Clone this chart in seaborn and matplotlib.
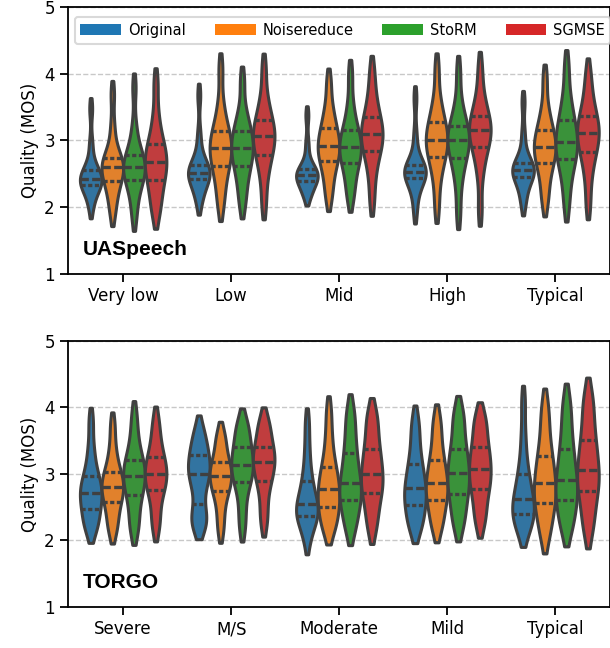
import numpy as np
import pandas as pd
import matplotlib
import matplotlib.pyplot as plt
from matplotlib.patches import Patch
import seaborn as sns

matplotlib.rcParams.update({
    "font.family": "DejaVu Sans",
    "font.size": 12,
    "axes.linewidth": 1.3,
    "xtick.major.width": 1.3,
    "ytick.major.width": 1.3,
    "xtick.major.size": 6,
    "ytick.major.size": 6,
    "xtick.labelsize": 12,
    "ytick.labelsize": 12,
    "axes.labelsize": 12,
})

systems = ["Original", "Noisereduce", "StoRM", "SGMSE"]
ua_groups = ["Very low", "Low", "Mid", "High", "Typical"]
torgo_groups = ["Severe", "M/S", "Moderate", "Mild", "Typical"]

# MOS samples (one list per severity group)
ua_original = [
    [1.99, 2.18, 2.28, 2.33, 2.36, 2.39, 2.42, 2.46, 2.51, 2.56, 2.66, 2.95, 3.48],
    [2.06, 2.22, 2.33, 2.42, 2.46, 2.49, 2.52, 2.56, 2.60, 2.64, 2.78, 3.08, 3.68],
    [2.16, 2.24, 2.32, 2.40, 2.43, 2.46, 2.48, 2.51, 2.54, 2.58, 2.68, 2.95, 3.38],
    [1.93, 2.20, 2.33, 2.44, 2.48, 2.51, 2.53, 2.56, 2.59, 2.63, 2.76, 3.08, 3.64],
    [2.04, 2.22, 2.36, 2.45, 2.49, 2.53, 2.56, 2.59, 2.62, 2.67, 2.80, 3.10, 3.58],
]
ua_noisereduce = [
    [1.91, 2.12, 2.28, 2.39, 2.46, 2.54, 2.60, 2.64, 2.69, 2.74, 2.88, 3.20, 3.70],
    [2.02, 2.26, 2.48, 2.62, 2.71, 2.80, 2.89, 2.96, 3.05, 3.14, 3.28, 3.55, 4.08],
    [2.14, 2.36, 2.56, 2.69, 2.77, 2.85, 2.92, 3.00, 3.09, 3.19, 3.33, 3.52, 3.88],
    [1.99, 2.38, 2.61, 2.76, 2.85, 2.93, 3.01, 3.09, 3.17, 3.27, 3.42, 3.63, 4.08],
    [2.07, 2.30, 2.52, 2.66, 2.74, 2.83, 2.90, 2.98, 3.06, 3.15, 3.29, 3.50, 3.93],
]
ua_storm = [
    [1.85, 2.12, 2.30, 2.41, 2.48, 2.54, 2.60, 2.66, 2.72, 2.79, 2.92, 3.20, 3.80],
    [2.04, 2.28, 2.48, 2.62, 2.71, 2.81, 2.89, 2.97, 3.05, 3.14, 3.27, 3.45, 3.90],
    [2.14, 2.33, 2.54, 2.67, 2.75, 2.83, 2.90, 2.98, 3.06, 3.15, 3.30, 3.55, 4.00],
    [1.90, 2.33, 2.58, 2.74, 2.83, 2.93, 3.01, 3.07, 3.14, 3.22, 3.36, 3.58, 4.04],
    [2.02, 2.35, 2.57, 2.72, 2.81, 2.90, 2.98, 3.08, 3.19, 3.30, 3.46, 3.70, 4.12],
]
ua_sgmse = [
    [1.90, 2.08, 2.26, 2.41, 2.51, 2.60, 2.68, 2.76, 2.85, 2.95, 3.10, 3.38, 3.86],
    [2.04, 2.42, 2.64, 2.79, 2.88, 2.98, 3.06, 3.13, 3.21, 3.30, 3.45, 3.65, 4.08],
    [2.09, 2.45, 2.68, 2.84, 2.93, 3.01, 3.09, 3.17, 3.26, 3.35, 3.51, 3.72, 4.05],
    [1.95, 2.48, 2.74, 2.90, 2.99, 3.07, 3.15, 3.22, 3.29, 3.37, 3.51, 3.72, 4.10],
    [2.04, 2.43, 2.67, 2.83, 2.93, 3.02, 3.11, 3.19, 3.27, 3.36, 3.51, 3.71, 4.01],
]

torgo_original = [
    [2.16, 2.24, 2.35, 2.48, 2.57, 2.65, 2.72, 2.80, 2.88, 2.97, 3.15, 3.40, 3.80],
    [2.22, 2.28, 2.34, 2.55, 2.80, 2.92, 3.00, 3.09, 3.17, 3.28, 3.38, 3.52, 3.68],
    [2.00, 2.24, 2.31, 2.37, 2.43, 2.49, 2.55, 2.64, 2.76, 2.90, 3.10, 3.40, 3.78],
    [2.17, 2.26, 2.40, 2.53, 2.62, 2.70, 2.79, 2.90, 3.02, 3.15, 3.33, 3.58, 3.82],
    [2.14, 2.24, 2.33, 2.40, 2.47, 2.54, 2.62, 2.73, 2.86, 3.00, 3.22, 3.58, 4.09],
]
torgo_noisereduce = [
    [2.14, 2.27, 2.44, 2.58, 2.66, 2.74, 2.81, 2.88, 2.95, 3.03, 3.18, 3.40, 3.74],
    [2.14, 2.38, 2.60, 2.74, 2.82, 2.90, 2.97, 3.04, 3.11, 3.18, 3.31, 3.48, 3.61],
    [2.16, 2.25, 2.38, 2.50, 2.59, 2.68, 2.77, 2.88, 2.99, 3.10, 3.30, 3.58, 3.95],
    [2.18, 2.31, 2.47, 2.61, 2.69, 2.78, 2.86, 2.97, 3.09, 3.21, 3.38, 3.62, 3.84],
    [2.05, 2.25, 2.42, 2.56, 2.66, 2.76, 2.86, 3.00, 3.13, 3.27, 3.47, 3.75, 4.04],
]
torgo_storm = [
    [2.14, 2.30, 2.52, 2.69, 2.79, 2.88, 2.97, 3.05, 3.13, 3.21, 3.36, 3.58, 3.89],
    [2.18, 2.45, 2.72, 2.88, 2.97, 3.05, 3.13, 3.22, 3.31, 3.40, 3.54, 3.68, 3.79],
    [2.16, 2.31, 2.48, 2.61, 2.69, 2.78, 2.87, 3.00, 3.15, 3.31, 3.50, 3.75, 3.97],
    [2.21, 2.36, 2.55, 2.70, 2.80, 2.91, 3.01, 3.13, 3.25, 3.38, 3.56, 3.80, 3.95],
    [2.16, 2.30, 2.47, 2.61, 2.71, 2.81, 2.91, 3.06, 3.21, 3.37, 3.58, 3.85, 4.11],
]
torgo_sgmse = [
    [2.18, 2.37, 2.60, 2.76, 2.84, 2.92, 3.00, 3.08, 3.16, 3.25, 3.39, 3.58, 3.82],
    [2.25, 2.48, 2.74, 2.90, 3.00, 3.10, 3.18, 3.26, 3.33, 3.41, 3.55, 3.70, 3.81],
    [2.17, 2.36, 2.56, 2.71, 2.81, 2.90, 3.00, 3.12, 3.25, 3.38, 3.55, 3.78, 3.92],
    [2.25, 2.41, 2.61, 2.77, 2.87, 2.97, 3.07, 3.18, 3.29, 3.40, 3.56, 3.76, 3.87],
    [2.14, 2.34, 2.56, 2.74, 2.85, 2.95, 3.06, 3.21, 3.36, 3.51, 3.72, 3.98, 4.19],
]


def to_long(groups, per_system):
    rows = []
    for system, values in zip(systems, per_system):
        for group, samples in zip(groups, values):
            for v in samples:
                rows.append({"group": group, "system": system, "mos": v})
    return pd.DataFrame(rows)


ua_df = to_long(ua_groups, [ua_original, ua_noisereduce, ua_storm, ua_sgmse])
torgo_df = to_long(torgo_groups, [torgo_original, torgo_noisereduce, torgo_storm, torgo_sgmse])

tab10 = sns.color_palette("tab10", 4)

fig = plt.figure(figsize=(6.1, 6.48), dpi=100)
ax1 = fig.add_axes([0.1115, 0.5772, 0.8877, 0.412])
ax2 = fig.add_axes([0.1115, 0.0633, 0.8877, 0.4105])

for ax, df, groups, name in [
    (ax1, ua_df, ua_groups, "UASpeech"),
    (ax2, torgo_df, torgo_groups, "TORGO"),
]:
    ax.set_axisbelow(True)
    ax.grid(True, linestyle="--", color="#c8c8c8", linewidth=1.0)
    sns.violinplot(
        data=df, x="group", y="mos", hue="system",
        order=groups, hue_order=systems, palette=tab10,
        inner="quart", cut=1, bw_adjust=0.7, density_norm="width",
        linewidth=2.2, linecolor="#404040", inner_kws={"linewidth": 2.4},
        legend=False, ax=ax,
    )
    ax.set_ylim(1, 5)
    ax.set_yticks([1, 2, 3, 4, 5])
    ax.set_xlim(-0.51, 4.5)
    ax.set_xlabel("")
    ax.set_ylabel("Quality (MOS)")
    ax.text(0.027, 0.07, name, transform=ax.transAxes, ha="left", va="baseline",
            fontsize=15, fontweight="bold", family="Liberation Sans")

handles = [Patch(facecolor=c, edgecolor="none") for c in tab10]
leg = ax1.legend(handles, systems, loc="upper center", bbox_to_anchor=(0.507, 0.99),
                 ncol=4, fontsize=10.5, handlelength=2.8, handleheight=0.8,
                 handletextpad=0.45, columnspacing=2.0, borderaxespad=0.5,
                 frameon=True, fancybox=True)
leg.get_frame().set_edgecolor("#d0d0d0")
leg.get_frame().set_linewidth(1.5)

fig.savefig("out.png", dpi=100)
